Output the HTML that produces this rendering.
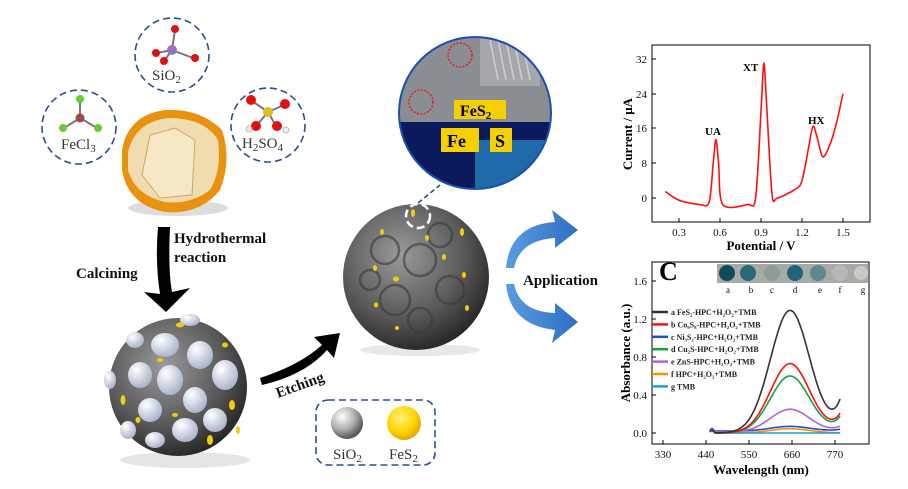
<!DOCTYPE html>
<html><head><meta charset="utf-8"><style>
html,body{margin:0;padding:0;background:#fff;}
svg{display:block;font-family:"Liberation Serif",serif;}
</style></head><body>
<svg id="s" width="908" height="489" viewBox="0 0 908 489" xmlns="http://www.w3.org/2000/svg">
<defs>
<radialGradient id="peel" cx="40%" cy="40%" r="65%"><stop offset="0" stop-color="#f4e2b0"/><stop offset="0.55" stop-color="#e8c88a"/><stop offset="0.8" stop-color="#e39a2a"/><stop offset="1" stop-color="#b86a10"/></radialGradient>
<radialGradient id="sph" cx="40%" cy="35%" r="70%"><stop offset="0" stop-color="#9a9a9a"/><stop offset="0.6" stop-color="#5a5a5a"/><stop offset="1" stop-color="#222"/></radialGradient>
<radialGradient id="wb" cx="35%" cy="30%" r="70%"><stop offset="0" stop-color="#fff"/><stop offset="1" stop-color="#aab6cc"/></radialGradient>
<radialGradient id="yb" cx="40%" cy="35%" r="70%"><stop offset="0" stop-color="#fff27a"/><stop offset="0.6" stop-color="#ffd400"/><stop offset="1" stop-color="#d9a000"/></radialGradient>
<radialGradient id="gb" cx="35%" cy="30%" r="70%"><stop offset="0" stop-color="#fff"/><stop offset="0.6" stop-color="#aaa"/><stop offset="1" stop-color="#555"/></radialGradient>
<linearGradient id="blue" x1="0" y1="0" x2="1" y2="0"><stop offset="0" stop-color="#5b9be0"/><stop offset="1" stop-color="#2d6fc4"/></linearGradient>
</defs>
<g fill="none" stroke="#2a4f8f" stroke-width="1.6" stroke-dasharray="7,4">
<circle cx="79" cy="127" r="37"/><circle cx="172" cy="55" r="37"/><circle cx="268" cy="125" r="37"/>
</g>
<g stroke="#777" stroke-width="2">
<line x1="80" y1="118" x2="80" y2="100"/><line x1="80" y1="118" x2="64" y2="128"/><line x1="80" y1="118" x2="97" y2="128"/>
<line x1="172" y1="50" x2="175" y2="30"/><line x1="172" y1="50" x2="157" y2="53"/><line x1="172" y1="50" x2="193" y2="58"/><line x1="172" y1="50" x2="164" y2="61"/>
<line x1="268" y1="112" x2="252" y2="101"/><line x1="268" y1="112" x2="284" y2="105"/><line x1="268" y1="112" x2="256" y2="126"/><line x1="268" y1="112" x2="276" y2="126"/>
</g>
<circle cx="80" cy="118" r="4.5" fill="#9b4a4a"/><circle cx="80" cy="99" r="4" fill="#66cc33"/><circle cx="63" cy="128" r="4" fill="#66cc33"/><circle cx="98" cy="128" r="4" fill="#66cc33"/>
<circle cx="172" cy="50" r="5" fill="#9370c8"/><circle cx="175" cy="29" r="4" fill="#e01010"/><circle cx="156" cy="53" r="4" fill="#e01010"/><circle cx="195" cy="58" r="4" fill="#e01010"/><circle cx="164" cy="61" r="4" fill="#e01010"/>
<circle cx="268" cy="112" r="5" fill="#d9c020"/><circle cx="251" cy="100" r="5" fill="#e01010"/><circle cx="285" cy="104" r="5" fill="#e01010"/><circle cx="256" cy="126" r="5" fill="#e01010"/><circle cx="277" cy="126" r="5" fill="#e01010"/><circle cx="249" cy="129" r="3" fill="#eee" stroke="#bbb"/><circle cx="286" cy="130" r="3" fill="#eee" stroke="#bbb"/>
<g font-size="15" fill="#333">
<text x="61" y="149">FeCl<tspan font-size="11" dy="3">3</tspan></text>
<text x="152" y="80">SiO<tspan font-size="11" dy="3">2</tspan></text>
<text x="242" y="148">H<tspan font-size="11" dy="3">2</tspan><tspan dy="-3">SO</tspan><tspan font-size="11" dy="3">4</tspan></text>
</g>
<ellipse cx="178" cy="208" rx="50" ry="8" fill="#ddd"/>
<path d="M122 150 Q128 115 165 110 Q200 108 222 130 Q232 160 220 190 Q200 215 165 212 Q128 205 122 170 Z" fill="#e8920f"/>
<path d="M128 152 Q135 122 168 118 Q205 118 218 140 Q222 170 210 190 Q190 205 165 202 Q135 195 128 170 Z" fill="#f0dcae"/>
<path d="M150 135 L175 128 L195 140 L192 195 L160 198 L142 175 Z" fill="#f6e8c4" stroke="#c9a86a" stroke-width="1"/>
<path d="M158 227 L170 227 Q168 270 172 292 L190 288 L166 312 L144 292 L160 294 Q155 262 158 227 Z" fill="#000"/>
<g font-weight="bold" font-size="15" fill="#111">
<text x="174" y="243">Hydrothermal</text><text x="174" y="262">reaction</text>
<text x="76" y="278">Calcining</text>
<text x="523" y="285">Application</text>
<text transform="translate(278,398) rotate(-20)">Etching</text>
</g>
<ellipse cx="185" cy="460" rx="65" ry="8" fill="#e5e5e5"/>
<circle cx="178" cy="387" r="69" fill="url(#sph)"/>
<g fill="url(#wb)">
<ellipse cx="165" cy="345" rx="14" ry="12"/><ellipse cx="200" cy="355" rx="13" ry="14"/><ellipse cx="225" cy="375" rx="13" ry="15"/><ellipse cx="140" cy="375" rx="12" ry="13"/><ellipse cx="170" cy="380" rx="13" ry="15"/><ellipse cx="195" cy="400" rx="12" ry="13"/><ellipse cx="150" cy="410" rx="12" ry="12"/><ellipse cx="185" cy="430" rx="13" ry="12"/><ellipse cx="215" cy="420" rx="12" ry="12"/><ellipse cx="155" cy="440" rx="10" ry="8"/><ellipse cx="135" cy="340" rx="9" ry="8"/><ellipse cx="190" cy="320" rx="10" ry="6"/><ellipse cx="110" cy="380" rx="6" ry="9"/><ellipse cx="128" cy="430" rx="8" ry="9"/>
</g>
<g fill="#f2cc10"><ellipse cx="180" cy="325" rx="4" ry="2.5"/><ellipse cx="160" cy="360" rx="3" ry="2"/><ellipse cx="232" cy="405" rx="3" ry="5"/><ellipse cx="123" cy="400" rx="2.5" ry="5"/><ellipse cx="210" cy="440" rx="3" ry="5"/><ellipse cx="175" cy="415" rx="3" ry="2"/><ellipse cx="138" cy="420" rx="2.5" ry="3"/><ellipse cx="225" cy="345" rx="3" ry="2.5"/><ellipse cx="238" cy="430" rx="2" ry="4"/></g>
<path d="M260 378 Q300 365 322 345 L314 337 L340 333 L334 358 L327 350 Q305 375 262 385 Z" fill="#000"/>
<rect x="316" y="400" width="119" height="65" rx="12" fill="none" stroke="#2a4f8f" stroke-width="1.6" stroke-dasharray="7,4"/>
<circle cx="347" cy="423" r="16" fill="url(#gb)"/><circle cx="404" cy="423" r="17" fill="url(#yb)"/>
<g font-size="15" fill="#333"><text x="333" y="459">SiO<tspan font-size="11" dy="3">2</tspan></text><text x="389" y="459">FeS<tspan font-size="11" dy="3">2</tspan></text></g>
<ellipse cx="420" cy="350" rx="60" ry="6" fill="#e8e8e8"/>
<circle cx="416" cy="277" r="73" fill="url(#sph)"/>
<g fill="none" stroke="#3a3a3a" stroke-width="2.5" opacity="0.6"><circle cx="385" cy="250" r="14"/><circle cx="420" cy="260" r="16"/><circle cx="450" cy="290" r="14"/><circle cx="395" cy="300" r="15"/><circle cx="440" cy="235" r="12"/><circle cx="370" cy="280" r="10"/><circle cx="420" cy="320" r="12"/></g>
<circle cx="418" cy="216" r="12" fill="none" stroke="#fff" stroke-width="2.5" stroke-dasharray="8,4"/>
<g fill="#f2cc10"><ellipse cx="413" cy="213" rx="2" ry="4"/><ellipse cx="382" cy="232" rx="2" ry="3"/><ellipse cx="462" cy="232" rx="2" ry="4"/><ellipse cx="444" cy="257" rx="2" ry="3"/><ellipse cx="375" cy="268" rx="2" ry="3"/><ellipse cx="396" cy="279" rx="3" ry="2.5"/><ellipse cx="464" cy="275" rx="2" ry="3"/><ellipse cx="376" cy="305" rx="2" ry="2.5"/><ellipse cx="467" cy="308" rx="2" ry="3"/><ellipse cx="397" cy="328" rx="2" ry="2"/><ellipse cx="427" cy="238" rx="2" ry="3"/></g>
<line x1="418" y1="203" x2="440" y2="185" stroke="#2a4f8f" stroke-width="1.6" stroke-dasharray="5,3"/>
<clipPath id="tc"><circle cx="475" cy="113" r="76"/></clipPath>
<g clip-path="url(#tc)">
<rect x="398" y="36" width="155" height="86" fill="#8a8d92"/>
<rect x="480" y="36" width="60" height="50" fill="#a5a7aa"/>
<g stroke="#d0d0d0" stroke-width="1.5"><line x1="490" y1="40" x2="498" y2="80"/><line x1="498" y1="40" x2="506" y2="80"/><line x1="506" y1="40" x2="514" y2="80"/><line x1="514" y1="40" x2="522" y2="80"/><line x1="522" y1="40" x2="530" y2="80"/></g>
<rect x="398" y="122" width="155" height="70" fill="#0a1a5a"/>
<rect x="475" y="140" width="80" height="52" fill="#1f6aa8"/>
<circle cx="460" cy="55" r="12" fill="none" stroke="#e02020" stroke-width="1.5" stroke-dasharray="2,1.5"/>
<circle cx="421" cy="102" r="12" fill="none" stroke="#e02020" stroke-width="1.5" stroke-dasharray="2,1.5"/>
</g>
<circle cx="475" cy="113" r="76" fill="none" stroke="#1d4fb0" stroke-width="2"/>
<rect x="454" y="100" width="52" height="19" fill="#f5d000"/>
<rect x="441" y="128" width="38" height="24" fill="#f5d000"/><rect x="490" y="128" width="22" height="24" fill="#f5d000"/>
<g font-weight="bold" fill="#000"><text x="460" y="116" font-size="16">FeS<tspan font-size="11" dy="3">2</tspan></text><text x="447" y="147" font-size="18">Fe</text><text x="495" y="147" font-size="18">S</text></g>
<path d="M506 268 Q510 225 555 222 L552 210 L578 230 L555 248 L555 238 Q520 240 514 268 Z" fill="url(#blue)"/>
<path d="M506 284 Q510 325 555 330 L552 343 L578 322 L555 303 L555 313 Q520 312 514 284 Z" fill="url(#blue)"/>
<rect x="652" y="45" width="218" height="177" fill="none" stroke="#000" stroke-width="1"/>
<g stroke="#000" stroke-width="1">
<line x1="652" y1="59" x2="656" y2="59"/><line x1="652" y1="94" x2="656" y2="94"/><line x1="652" y1="128" x2="656" y2="128"/><line x1="652" y1="163" x2="656" y2="163"/><line x1="652" y1="198" x2="656" y2="198"/>
<line x1="679" y1="222" x2="679" y2="218"/><line x1="720" y1="222" x2="720" y2="218"/><line x1="761" y1="222" x2="761" y2="218"/><line x1="802" y1="222" x2="802" y2="218"/><line x1="843" y1="222" x2="843" y2="218"/>
</g>
<g font-size="11" fill="#111" text-anchor="end"><text x="647" y="63">32</text><text x="647" y="98">24</text><text x="647" y="132">16</text><text x="647" y="167">8</text><text x="647" y="202">0</text></g>
<g font-size="11" fill="#111" text-anchor="middle"><text x="679" y="236">0.3</text><text x="720" y="236">0.6</text><text x="761" y="236">0.9</text><text x="802" y="236">1.2</text><text x="843" y="236">1.5</text></g>
<text x="761" y="250" font-size="13" font-weight="bold" text-anchor="middle">Potential / V</text>
<text transform="translate(632,134) rotate(-90)" font-size="13" font-weight="bold" text-anchor="middle">Current / μA</text>
<g font-size="11" font-weight="bold"><text x="705" y="135">UA</text><text x="743" y="71">XT</text><text x="808" y="124">HX</text></g>
<path id="cv" fill="none" stroke="#ff1010" stroke-width="1.6"/>
<rect x="652" y="262" width="217" height="182" fill="none" stroke="#000" stroke-width="1"/>
<g stroke="#000" stroke-width="1">
<line x1="652" y1="281" x2="656" y2="281"/><line x1="652" y1="319" x2="656" y2="319"/><line x1="652" y1="357" x2="656" y2="357"/><line x1="652" y1="395" x2="656" y2="395"/><line x1="652" y1="433" x2="656" y2="433"/>
<line x1="663" y1="444" x2="663" y2="440"/><line x1="706" y1="444" x2="706" y2="440"/><line x1="749" y1="444" x2="749" y2="440"/><line x1="792" y1="444" x2="792" y2="440"/><line x1="835" y1="444" x2="835" y2="440"/>
</g>
<g font-size="11" fill="#111" text-anchor="end"><text x="647" y="285">1.6</text><text x="647" y="323">1.2</text><text x="647" y="361">0.8</text><text x="647" y="399">0.4</text><text x="647" y="437">0.0</text></g>
<g font-size="11" fill="#111" text-anchor="middle"><text x="663" y="458">330</text><text x="706" y="458">440</text><text x="749" y="458">550</text><text x="792" y="458">660</text><text x="835" y="458">770</text></g>
<text x="761" y="474" font-size="13" font-weight="bold" text-anchor="middle">Wavelength (nm)</text>
<text transform="translate(630,353) rotate(-90)" font-size="13" font-weight="bold" text-anchor="middle">Absorbance (a.u.)</text>
<text x="659" y="280" font-size="26" font-weight="bold">C</text>
<rect x="717" y="264" width="151" height="19" fill="#a8aaa6"/>
<g><circle cx="727" cy="273" r="8" fill="#0e4a5a"/><circle cx="748" cy="273" r="8" fill="#2a6a78"/><circle cx="772" cy="273" r="8" fill="#909a98"/><circle cx="795" cy="273" r="8" fill="#1f6478"/><circle cx="818" cy="273" r="8" fill="#5d8890"/><circle cx="840" cy="273" r="8" fill="#b5b8b4"/><circle cx="861" cy="273" r="7" fill="#c8cac6"/></g>
<g font-size="9" text-anchor="middle"><text x="728" y="293">a</text><text x="751" y="293">b</text><text x="772" y="293">c</text><text x="795" y="293">d</text><text x="820" y="293">e</text><text x="840" y="293">f</text><text x="863" y="293">g</text></g>
<g id="curves"></g>
<g id="leg" font-size="8" font-weight="bold" fill="#222"></g>
</svg>
<script>
var ns="http://www.w3.org/2000/svg";
var P=[[665.3,191.5],[679,200.2],[699.5,204.5],[709.1,202.3],[713.2,163.2],[715.9,139.4],[718.6,163.2],[722.7,204.5],[747.4,204.5],[755.6,198],[761,111.1],[763.8,63.3],[766.5,102.4],[772,193.7],[777.4,198],[795.2,189.3],[802,180.6],[808.9,145.9],[813,126.3],[817.1,137.2],[822.6,156.7],[829.4,145.9],[836.2,124.2],[843,93.7]];
var d="M"+P[0][0]+" "+P[0][1];
for(var i=0;i<P.length-1;i++){var p0=P[Math.max(0,i-1)],p1=P[i],p2=P[i+1],p3=P[Math.min(P.length-1,i+2)];var t=0.15;
d+="C"+(p1[0]+(p2[0]-p0[0])*t).toFixed(1)+" "+(p1[1]+(p2[1]-p0[1])*t).toFixed(1)+" "+(p2[0]-(p3[0]-p1[0])*t).toFixed(1)+" "+(p2[1]-(p3[1]-p1[1])*t).toFixed(1)+" "+p2[0]+" "+p2[1];}
document.getElementById("cv").setAttribute("d",d);
function X(w){return 663+(w-330)*0.3909;}function Y(a){return 433-a*95;}
var S=[["#ff8c00",0.045,0.0,0.0],["#1ea0d0",0,0,0],["#1d4fd0",0.05,0.02,0.02],["#b060e0",0.24,0.06,0.01],["#18a040",0.6,0.17,0],["#ff1010",0.73,0.2,0],["#333",1.29,0.34,0]];
var g=document.getElementById("curves");
S.forEach(function(s){var d="";for(var w=450;w<=785;w+=3){var a=s[1]*Math.exp(-Math.pow((w-655)/50,2)/2)+s[2]*Math.exp((w-785)/22)+s[3];if(w<465)a+=0.03*Math.exp(-Math.pow((w-455)/5,2));d+=(d?"L":"M")+X(w).toFixed(1)+" "+Y(a).toFixed(1);}
var p=document.createElementNS(ns,"path");p.setAttribute("d",d);p.setAttribute("fill","none");p.setAttribute("stroke",s[0]);p.setAttribute("stroke-width","1.6");g.appendChild(p);});
var L=[["#333","a FeS₂-HPC+H₂O₂+TMB"],["#ff1010","b Co₉S₈-HPC+H₂O₂+TMB"],["#1d4fd0","c Ni₃S₂-HPC+H₂O₂+TMB"],["#18a040","d Cu₂S-HPC+H₂O₂+TMB"],["#b060e0","e ZnS-HPC+H₂O₂+TMB"],["#ff8c00","f HPC+H₂O₂+TMB"],["#1ea0d0","g TMB"]];
var lg=document.getElementById("leg");
L.forEach(function(l,i){var y=312+i*12.4;var ln=document.createElementNS(ns,"line");ln.setAttribute("x1",652);ln.setAttribute("x2",668);ln.setAttribute("y1",y);ln.setAttribute("y2",y);ln.setAttribute("stroke",l[0]);ln.setAttribute("stroke-width","2.5");lg.appendChild(ln);var t=document.createElementNS(ns,"text");t.setAttribute("x",671);t.setAttribute("y",y+3);t.textContent=l[1];lg.appendChild(t);});
</script>
</body></html>
